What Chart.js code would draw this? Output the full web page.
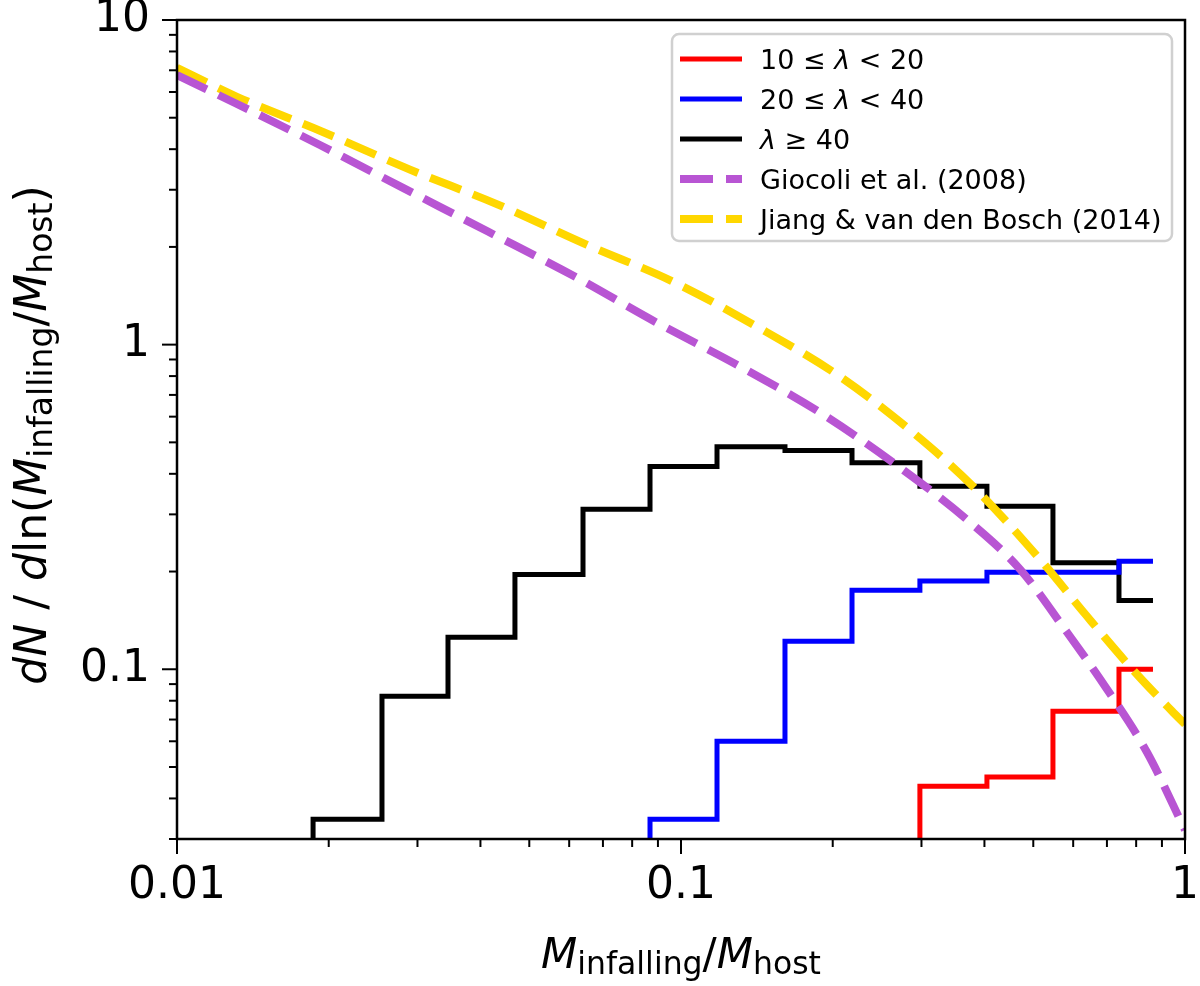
<!DOCTYPE html>
<html>
<head>
<meta charset="utf-8">
<script src="https://cdn.jsdelivr.net/npm/chart.js@4.4.1/dist/chart.umd.min.js"></script>
<style>
html, body { margin: 0; padding: 0; background: #fff; }
</style>
</head>
<body>
<canvas id="massChart" width="1200" height="986"></canvas>
<script>
// histogram bin edges in M_infalling / M_host (last entry = end of last step)
const binEdges = [0.01862, 0.02551, 0.03449, 0.04683, 0.06391, 0.08680, 0.11788,
                  0.16081, 0.21843, 0.29785, 0.40458, 0.54701, 0.73961];
const binEnd = 0.8639;

// dN/dln(M) per bin, null = empty bin
const lowLambda  = [null, null, null, null, null, null, null, null, null, 0.0436, 0.0466, 0.0743, 0.100];
const midLambda  = [null, null, null, null, null, 0.0345, 0.060, 0.122, 0.175, 0.187, 0.199, 0.199, 0.215];
const highLambda = [0.0345, 0.0826, 0.1255, 0.196, 0.311, 0.421, 0.485, 0.472, 0.433, 0.366, 0.318, 0.213, 0.163];

// model curves
const giocoliX = [0.01, 0.01303, 0.01921, 0.02808, 0.0414, 0.0622, 0.0888, 0.1310, 0.1887, 0.2720, 0.3694, 0.4708, 0.5833, 0.7003, 0.8406, 1.0];
const giocoliY = [6.77, 5.55, 4.12, 3.04, 2.23, 1.607, 1.177, 0.856, 0.618, 0.418, 0.289, 0.203, 0.130, 0.0868, 0.0555, 0.032];
const jiangX = [0.01, 0.01315, 0.01948, 0.02899, 0.04334, 0.0651, 0.0964, 0.1415, 0.2068, 0.2886, 0.3796, 0.5157, 0.6391, 0.796, 0.9423, 1.0];
const jiangY = [7.12, 5.80, 4.52, 3.46, 2.70, 2.03, 1.563, 1.136, 0.797, 0.536, 0.366, 0.218, 0.1456, 0.0979, 0.0743, 0.0677];

// tick positions
const xTicks = [0.01, 0.02, 0.03, 0.04, 0.05, 0.06, 0.07, 0.08, 0.09,
                0.1, 0.2, 0.3, 0.4, 0.5, 0.6, 0.7, 0.8, 0.9, 1];
const yTicks = [0.03, 0.04, 0.05, 0.06, 0.07, 0.08, 0.09,
                0.1, 0.2, 0.3, 0.4, 0.5, 0.6, 0.7, 0.8, 0.9,
                1, 2, 3, 4, 5, 6, 7, 8, 9, 10];

const FONT = 'DejaVu Sans';

function isDecade(v) {
    const l = Math.log10(v);
    return Math.abs(l - Math.round(l)) < 1e-6;
}

// turn per-bin values into step points (starts from below the axis)
function stepPoints(values) {
    const pts = [];
    values.forEach(function(v, i) {
        if (v === null) return;
        if (!pts.length) pts.push({ x: binEdges[i], y: 0.01 });
        pts.push({ x: binEdges[i], y: v });
    });
    pts.push({ x: binEnd, y: pts[pts.length - 1].y });
    return pts;
}

function curvePoints(xs, ys) {
    return xs.map(function(x, i) { return { x: x, y: ys[i] }; });
}

function fontFor(p, size) {
    const s = p.sub ? size * 0.75 : size;
    return (p.it ? 'italic ' : '') + s + 'px "' + FONT + '"';
}

// draw mathtext-like label centred on cx
function drawRich(ctx, parts, cx, baseline, size) {
    let w = 0;
    parts.forEach(function(p) { ctx.font = fontFor(p, size); w += ctx.measureText(p.t).width; });
    let x = cx - w / 2;
    ctx.textAlign = 'left';
    ctx.textBaseline = 'alphabetic';
    parts.forEach(function(p) {
        ctx.font = fontFor(p, size);
        ctx.fillText(p.t, x, baseline + (p.sub ? size * 0.14 : 0));
        x += ctx.measureText(p.t).width;
    });
}

const xTitle = [
    { t: 'M', it: true }, { t: 'infalling', sub: true }, { t: '/' },
    { t: 'M', it: true }, { t: 'host', sub: true }
];
const yTitle = [
    { t: 'dN', it: true }, { t: ' / ' }, { t: 'd', it: true }, { t: 'ln(' },
    { t: 'M', it: true }, { t: 'infalling', sub: true }, { t: '/' },
    { t: 'M', it: true }, { t: 'host', sub: true }, { t: ')' }
];

// spines, tick marks and axis titles
const framePlugin = {
    id: 'frame',
    afterDatasetsDraw(chart) {
        const ctx = chart.ctx, a = chart.chartArea;
        const xs = chart.scales.x, ys = chart.scales.y;
        ctx.save();
        ctx.strokeStyle = '#000';
        ctx.lineWidth = 2;
        xs.ticks.forEach(function(t) {
            const px = xs.getPixelForValue(t.value);
            const len = isDecade(t.value) ? 15 : 8;
            ctx.beginPath(); ctx.moveTo(px, a.bottom); ctx.lineTo(px, a.bottom + len); ctx.stroke();
        });
        ys.ticks.forEach(function(t) {
            const py = ys.getPixelForValue(t.value);
            const len = isDecade(t.value) ? 15 : 8;
            ctx.beginPath(); ctx.moveTo(a.left, py); ctx.lineTo(a.left - len, py); ctx.stroke();
        });
        ctx.lineWidth = 2.5;
        ctx.strokeRect(a.left, a.top, a.right - a.left, a.bottom - a.top);

        ctx.fillStyle = '#000';
        drawRich(ctx, xTitle, (a.left + a.right) / 2, 968, 42);
        ctx.translate(46, 435);
        ctx.rotate(-Math.PI / 2);
        drawRich(ctx, yTitle, 0, 0, 44);
        ctx.restore();
    }
};

// matplotlib-style legend box in the upper right
const legendPlugin = {
    id: 'legendBox',
    afterDraw(chart) {
        const ctx = chart.ctx, a = chart.chartArea;
        const x0 = a.right - 513, y0 = a.top + 14, w = 500, h = 207, r = 7;
        ctx.save();
        ctx.beginPath();
        ctx.moveTo(x0 + r, y0);
        ctx.arcTo(x0 + w, y0, x0 + w, y0 + h, r);
        ctx.arcTo(x0 + w, y0 + h, x0, y0 + h, r);
        ctx.arcTo(x0, y0 + h, x0, y0, r);
        ctx.arcTo(x0, y0, x0 + w, y0, r);
        ctx.closePath();
        ctx.fillStyle = 'rgba(255,255,255,0.85)';
        ctx.fill();
        ctx.strokeStyle = '#d0d0d0';
        ctx.lineWidth = 2.5;
        ctx.stroke();

        chart.data.datasets.forEach(function(ds, i) {
            const cy = y0 + 25 + i * 40;
            ctx.strokeStyle = ds.borderColor;
            ctx.lineWidth = ds.borderWidth;
            ctx.setLineDash(ds.borderDash || []);
            ctx.beginPath(); ctx.moveTo(x0 + 8, cy); ctx.lineTo(x0 + 70, cy); ctx.stroke();
            ctx.setLineDash([]);
            const parts = [];
            ds.label.split('λ').forEach(function(s, k) {
                if (k > 0) parts.push({ t: 'λ', it: true });
                if (s) parts.push({ t: s });
            });
            ctx.fillStyle = '#000';
            let x = x0 + 88;
            parts.forEach(function(p) {
                ctx.font = (p.it ? 'italic ' : '') + '27px "' + FONT + '"';
                ctx.fillText(p.t, x, cy + 10);
                x += ctx.measureText(p.t).width;
            });
        });
        ctx.restore();
    }
};

// 'before' = horizontal first, then vertical at the next edge
const histStyle = { pointRadius: 0, borderWidth: 5, stepped: 'before', borderJoinStyle: 'miter', fill: false, order: 1 };
const curveStyle = { pointRadius: 0, borderWidth: 8, borderDash: [33, 13], cubicInterpolationMode: 'monotone', fill: false, order: 0 };

new Chart(document.getElementById('massChart'), {
    type: 'line',
    data: {
        datasets: [
            Object.assign({ label: '10 ≤ λ < 20', data: stepPoints(lowLambda), borderColor: '#ff0000' }, histStyle),
            Object.assign({ label: '20 ≤ λ < 40', data: stepPoints(midLambda), borderColor: '#0000ff' }, histStyle),
            Object.assign({ label: 'λ ≥ 40', data: stepPoints(highLambda), borderColor: '#000000' }, histStyle),
            Object.assign({ label: 'Giocoli et al. (2008)', data: curvePoints(giocoliX, giocoliY), borderColor: '#b855d3' }, curveStyle),
            Object.assign({ label: 'Jiang & van den Bosch (2014)', data: curvePoints(jiangX, jiangY), borderColor: '#ffd700' }, curveStyle)
        ]
    },
    options: {
        responsive: false,
        animation: false,
        devicePixelRatio: 1,
        layout: { padding: { top: 20, right: 15, left: 0, bottom: 0 } },
        plugins: { legend: { display: false }, tooltip: { enabled: false } },
        scales: {
            x: {
                type: 'logarithmic',
                min: 0.01,
                max: 1,
                grid: { display: false, drawTicks: false },
                border: { display: false },
                afterBuildTicks: function(s) { s.ticks = xTicks.map(function(v) { return { value: v }; }); },
                afterFit: function(s) { s.height = 147; s.paddingLeft = 0; s.paddingRight = 0; },
                ticks: {
                    autoSkip: false,
                    maxRotation: 0,
                    padding: 26,
                    color: '#000',
                    font: { family: FONT, size: 44, lineHeight: 1 },
                    callback: function(v) { return isDecade(v) ? String(v) : ''; }
                }
            },
            y: {
                type: 'logarithmic',
                min: 0.03,
                max: 10,
                grid: { display: false, drawTicks: false },
                border: { display: false },
                afterBuildTicks: function(s) { s.ticks = yTicks.map(function(v) { return { value: v }; }); },
                afterFit: function(s) { s.width = 177; s.paddingTop = 0; s.paddingBottom = 0; },
                ticks: {
                    autoSkip: false,
                    padding: 27,
                    color: '#000',
                    font: { family: FONT, size: 44, lineHeight: 1 },
                    callback: function(v) { return isDecade(v) ? String(v) : ''; }
                }
            }
        }
    },
    plugins: [framePlugin, legendPlugin]
});
</script>
</body>
</html>
